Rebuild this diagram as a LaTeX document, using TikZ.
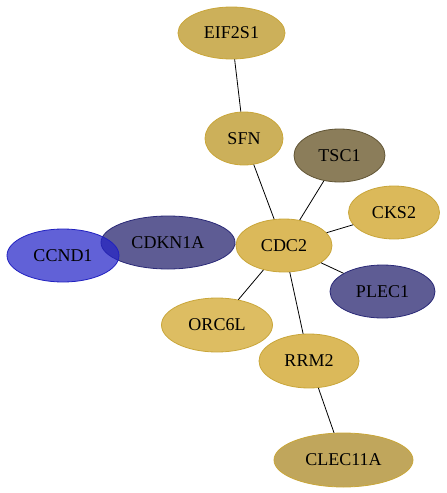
\documentclass[tikz,border=0pt]{standalone}
\usepackage{fontspec}
\setmainfont{Liberation Serif}
\usetikzlibrary{shapes.geometric}
\definecolor{goldA}{HTML}{CCB05A}
\definecolor{goldB}{HTML}{DBB95A}
\definecolor{goldC}{HTML}{C0A65C}
\definecolor{goldEdge}{HTML}{C9A63A}
\definecolor{tscFill}{HTML}{8B7D5A}
\definecolor{tscEdge}{HTML}{615535}
\definecolor{navyFill}{HTML}{5E5C94}
\definecolor{navyEdge}{HTML}{2B2A78}
\definecolor{blueFill}{HTML}{2424C8}
\definecolor{blueEdge}{HTML}{2020C0}
\tikzset{
  gene/.style={ellipse, inner sep=0pt, font=\fontsize{18}{21}\selectfont, line width=0.8pt},
  goldnode/.style={gene, fill=goldB, draw=goldEdge},
  link/.style={draw=black, line width=0.8pt}
}
\begin{document}
\begin{tikzpicture}[x=1pt,y=-1pt]
\useasboundingbox (0,0) rectangle (447,493);
\node[goldnode, fill=goldA, minimum width=107pt, minimum height=52pt] (EIF2S1) at (231.5,33) {EIF2S1};
\node[goldnode, fill=goldA, minimum width=78pt, minimum height=53pt] (SFN) at (244,138.5) {SFN};
\node[gene, fill=tscFill, draw=tscEdge, minimum width=91pt, minimum height=53pt] (TSC1) at (339.5,155.5) {TSC1};
\node[goldnode, minimum width=91pt, minimum height=53pt] (CKS2) at (394,212.5) {CKS2};
\node[goldnode, minimum width=96pt, minimum height=53pt] (CDC2) at (284,245.5) {CDC2};
\node[gene, fill=navyFill, draw=navyEdge, minimum width=134pt, minimum height=53pt] (CDKN1A) at (168,242.5) {CDKN1A};
\node[gene, fill=blueFill, fill opacity=0.72, text opacity=1, draw=blueEdge, minimum width=112pt, minimum height=53pt] (CCND1) at (63,255.5) {CCND1};
\node[gene, fill=navyFill, draw=navyEdge, minimum width=105pt, minimum height=53pt] (PLEC1) at (382.5,291.5) {PLEC1};
\node[goldnode, fill=goldB!95!white, minimum width=111pt, minimum height=54pt] (ORC6L) at (217,325) {ORC6L};
\node[goldnode, minimum width=100pt, minimum height=54pt] (RRM2) at (309,361) {RRM2};
\node[goldnode, fill=goldC, minimum width=139pt, minimum height=54pt] (CLEC11A) at (343.5,460) {CLEC11A};
\path[link] (EIF2S1) -- (SFN);
\path[link] (SFN) -- (CDC2);
\path[link] (TSC1) -- (CDC2);
\path[link] (CKS2) -- (CDC2);
\path[link] (PLEC1) -- (CDC2);
\path[link] (CDC2) -- (ORC6L);
\path[link] (CDC2) -- (RRM2);
\path[link] (RRM2) -- (CLEC11A);
\path[link] (CDKN1A) -- (CDC2);
\end{tikzpicture}
\end{document}
